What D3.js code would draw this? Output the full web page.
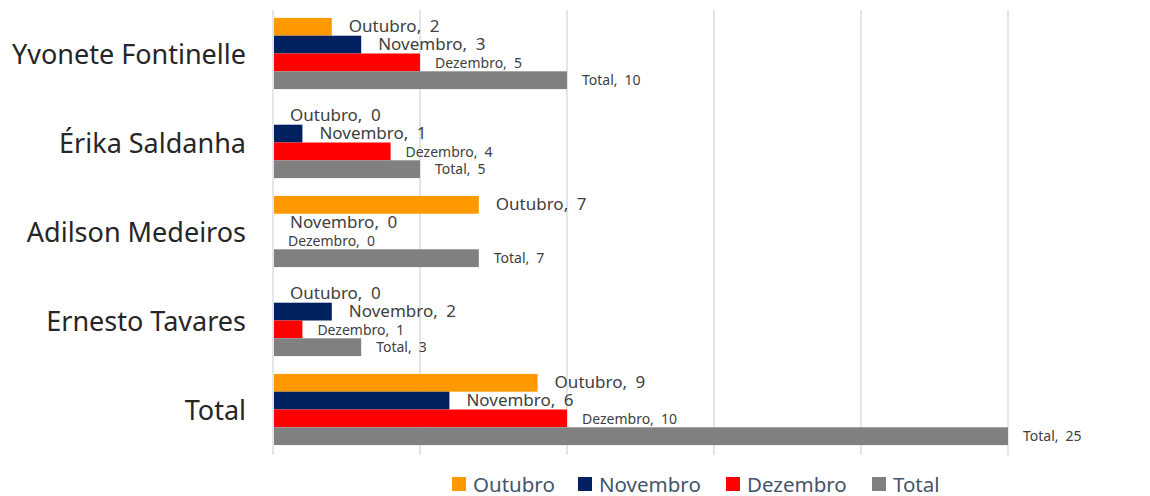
<!DOCTYPE html>
<html lang="pt">
<head>
  <meta charset="UTF-8">
  <script src="https://d3js.org/d3.v7.min.js"></script>
  <title>Chart</title>
  <style>
    body { margin: 0; background: #fff; font-family: "Noto Sans", "Open Sans", sans-serif; }
    .cat-label { font-size: 27px; fill: #262626; }
    .grid line { stroke: #D9DEE5; stroke-width: 1.5px; }
    .val-label { fill: #404040; }
    .legend-label { font-size: 20.5px; fill: #44546A; }
  </style>
</head>
<body>
  <svg id="chart" width="1150" height="496"></svg>

  <script>
    const categories = ["Yvonete Fontinelle", "Érika Saldanha", "Adilson Medeiros", "Ernesto Tavares", "Total"];
    const seriesNames = ["Outubro", "Novembro", "Dezembro", "Total"];
    const outubro = [2, 0, 7, 0, 9];
    const novembro = [3, 1, 0, 2, 6];
    const dezembro = [5, 4, 0, 1, 10];
    const total = [10, 5, 7, 3, 25];
    const xTicks = [0, 5, 10, 15, 20, 25];

    const seriesValues = [outubro, novembro, dezembro, total];
    const colors = ["#FF9900", "#002060", "#FF0000", "#808080"];
    const labelSizes = [17, 17, 14, 14];
    const labelDy = [-1.5, -1, 0, -0.5];

    const svg = d3.select("#chart");

    const x = d3.scaleLinear().domain([0, 25]).range([273, 1008]);
    const y = d3.scaleBand().domain(categories).range([9, 454])
      .paddingInner(0.2).paddingOuter(0.1);
    const ySub = d3.scaleBand().domain(seriesNames).range([0, y.bandwidth()]);

    // gridlines
    svg.append("g").attr("class", "grid")
      .selectAll("line")
      .data(xTicks)
      .join("line")
      .attr("x1", d => x(d)).attr("x2", d => x(d))
      .attr("y1", 10).attr("y2", 455);

    // category labels
    svg.append("g")
      .selectAll("text")
      .data(categories)
      .join("text")
      .attr("class", "cat-label")
      .attr("x", 246)
      .attr("y", d => y(d) + y.bandwidth() / 2)
      .attr("text-anchor", "end")
      .attr("dominant-baseline", "central")
      .text(d => d);

    const rows = [];
    categories.forEach((c, i) => {
      seriesNames.forEach((s, j) => {
        rows.push({ cat: c, series: s, j: j, value: seriesValues[j][i] });
      });
    });

    const groups = svg.append("g")
      .selectAll("g")
      .data(categories)
      .join("g")
      .attr("transform", d => `translate(0,${y(d)})`);

    groups.selectAll("rect")
      .data(c => rows.filter(r => r.cat === c))
      .join("rect")
      .attr("x", x(0) + 1)
      .attr("y", d => ySub(d.series))
      .attr("width", d => Math.max(0, x(d.value) - x(0) - 1))
      .attr("height", ySub.bandwidth())
      .attr("fill", d => colors[d.j]);

    groups.selectAll("text")
      .data(c => rows.filter(r => r.cat === c))
      .join("text")
      .attr("class", "val-label")
      .attr("x", d => x(d.value) + (d.j < 2 ? 17 : 15))
      .attr("y", d => ySub(d.series) + ySub.bandwidth() / 2 + labelDy[d.j])
      .attr("dominant-baseline", "central")
      .style("font-size", d => labelSizes[d.j] + "px")
      .text(d => `${d.series},\u2002${d.value}`);

    // legend
    const legendX = [452, 578, 726, 872];
    const legend = svg.append("g")
      .selectAll("g")
      .data(seriesNames)
      .join("g")
      .attr("transform", (d, i) => `translate(${legendX[i]},477)`);

    legend.append("rect")
      .attr("width", 14).attr("height", 14)
      .attr("fill", (d, i) => colors[i]);

    legend.append("text")
      .attr("class", "legend-label")
      .attr("x", 21)
      .attr("y", 7)
      .attr("dominant-baseline", "central")
      .text(d => d);
  </script>
</body>
</html>
